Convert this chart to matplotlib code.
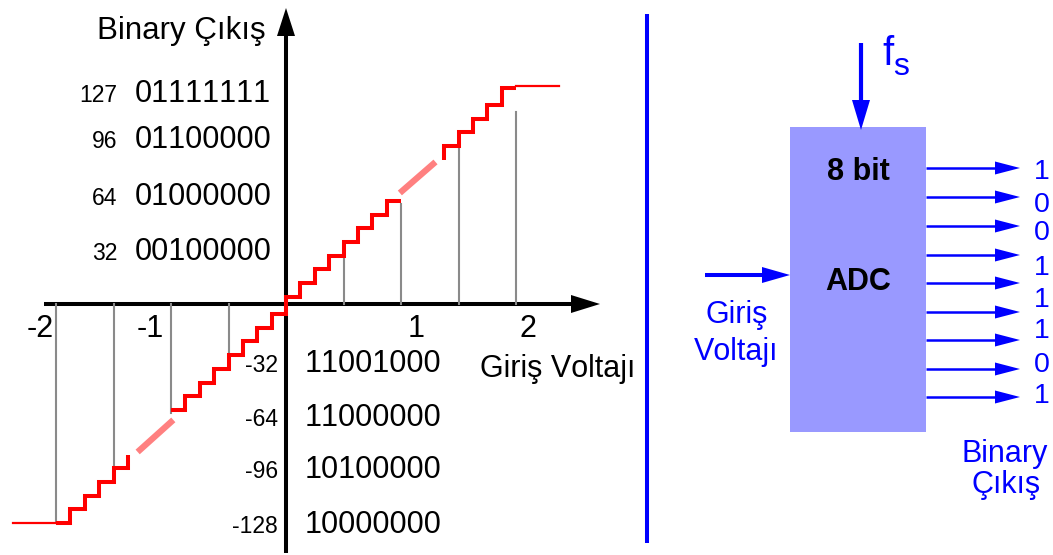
import matplotlib.pyplot as plt
from matplotlib.patches import Rectangle

plt.rcParams['font.family'] = ['Liberation Sans', 'DejaVu Sans']
# the reference digits are set without the "11" kerning pair
plt.rcParams['text.kerning_factor'] = 16

# transfer curve: input volts -> output code
mid_edges = [-1.0, -0.875, -0.75, -0.625, -0.5, -0.375, -0.25, -0.125, 0.0,
             0.125, 0.25, 0.375, 0.5, 0.625, 0.75, 0.875, 1.0]
mid_levels = [-62, -54, -46, -38, -30, -22, -14, -6,
              4, 12, 20, 28, 36, 44, 52, 60, 60]
top_edges = [1.375, 1.375, 1.5, 1.625, 1.75, 1.875, 2.0]
top_levels = [84, 92, 100, 108, 116, 126, 126]
low_edges = [-2.0, -1.875, -1.75, -1.625, -1.5, -1.375]
low_levels = [-128, -120, -112, -104, -96, -88]
sat_top_v, sat_top_code = [2.0, 2.37], [127, 127]
sat_low_v, sat_low_code = [-2.37, -2.0], [-128, -128]
gap_pos_v, gap_pos_code = [0.99, 1.30], [64.6, 82.7]
gap_neg_v, gap_neg_code = [-1.29, -0.98], [-86.5, -67.8]

grid_v = [-2, -1.5, -1, -0.5, 0.5, 1, 1.5, 2]
grid_top = [-128, -96, -64, -32, 28, 58, 91, 112]

xtick_labels = ['-2', '-1', '1', '2']
xtick_pos = [-2.14, -1.18, 1.13, 2.10]

pos_codes = ['127', '96', '64', '32']
pos_binary = ['01111111', '01100000', '01000000', '00100000']
pos_rows = [117.7, 90.8, 57.6, 25.5]
neg_codes = ['-32', '-64', '-96', '-128']
neg_binary = ['11001000', '11000000', '10100000', '10000000']
neg_rows = [-39.8, -71.4, -101.5, -133.8]

# ADC block
out_bits = ['1', '0', '0', '1', '1', '1', '0', '1']
bit_rows = [179, 212, 240, 275, 307, 338, 372, 403]
out_arrow_rows = [168, 197, 226, 255, 283, 312, 340, 369, 397]

BLUE = '#0000ff'
W, H = 1053, 555
fig = plt.figure(figsize=(W / 100, H / 100), dpi=100)
fig.patch.set_facecolor('white')

# pixel overlay (y down)
ov = fig.add_axes([0, 0, 1, 1], zorder=0)
ov.set_xlim(0, W)
ov.set_ylim(H, 0)
ov.axis('off')

# data axes: 1 V = 115 px, 1 code = 1.714 px, origin at (286, 303.7)
ax = fig.add_axes([0, 0, 1, 1], zorder=1)
ax.patch.set_alpha(0)
ax.set_xlim(-286 / 115, (W - 286) / 115)
ax.set_ylim((303.7 - H) / 1.714, 303.7 / 1.714)
ax.axis('off')


def arrow(x0, y0, x1, y1, head_len, head_half, lw, color):
    dx, dy = x1 - x0, y1 - y0
    L = (dx ** 2 + dy ** 2) ** 0.5
    ux, uy = dx / L, dy / L
    bx, by = x1 - ux * head_len, y1 - uy * head_len
    ov.plot([x0, bx + ux], [y0, by + uy], color=color, lw=lw, solid_capstyle='butt')
    ov.fill([x1, bx - uy * head_half, bx + uy * head_half],
            [y1, by + ux * head_half, by - ux * head_half], color=color, lw=0)


# chart axes
arrow(44, 304, 600, 304, 29, 9, 2.9, 'black')
arrow(286, 553, 286, 8, 28, 9, 2.9, 'black')

# grid drops
for v, top in zip(grid_v, grid_top):
    ax.plot([v, v], [0, top], color='#8a8a8a', lw=1.5, zorder=2)

red = dict(color='#ff0000', lw=2.9, solid_joinstyle='miter', solid_capstyle='butt', zorder=3)
ax.step(mid_edges, mid_levels, where='post', **red)
ax.step(top_edges, top_levels, where='post', **red)
ax.step(low_edges, low_levels, where='post', **red)
ax.plot(sat_top_v, sat_top_code, color='#ff0000', lw=1.6, zorder=3)
ax.plot(sat_low_v, sat_low_code, color='#ff0000', lw=1.6, zorder=3)
ax.plot(gap_pos_v, gap_pos_code, color='#ff8080', lw=4.5, solid_capstyle='butt', zorder=3)
ax.plot(gap_neg_v, gap_neg_code, color='#ff8080', lw=4.5, solid_capstyle='butt', zorder=3)

for lab, x in zip(xtick_labels, xtick_pos):
    ax.text(x, -14.8, lab, fontsize=22, ha='center', va='center')

for c, b, y in zip(pos_codes, pos_binary, pos_rows):
    ax.text((117 - 286) / 115, y, c, fontsize=16.5, ha='right', va='baseline')
    ax.text((135 - 286) / 115, y, b, fontsize=22, ha='left', va='baseline')
for c, b, y in zip(neg_codes, neg_binary, neg_rows):
    ax.text((278 - 286) / 115, y, c, fontsize=16.5, ha='right', va='baseline')
    ax.text((305 - 286) / 115, y, b, fontsize=22, ha='left', va='baseline')

ov.text(181, 39, 'Binary Çıkış', fontsize=22.5, ha='center', va='baseline')
ov.text(558, 377, 'Giriş Voltajı', fontsize=22, ha='center', va='baseline')

# divider
ov.plot([647, 647], [14, 543], color=BLUE, lw=2.9, solid_capstyle='butt')

# ADC block
ov.add_patch(Rectangle((790, 127), 136, 305, facecolor='#9999ff', edgecolor='none'))
ov.text(858, 180, '8 bit', fontsize=22, fontweight='bold', ha='center', va='baseline')
ov.text(858, 290, 'ADC', fontsize=22, fontweight='bold', ha='center', va='baseline')

arrow(861, 43, 861, 130, 30, 9, 3.0, BLUE)
ov.text(882, 65, 'f', fontsize=29, color=BLUE, ha='left', va='baseline')
ov.text(893, 75, 's', fontsize=23, color=BLUE, ha='left', va='baseline')

arrow(705, 275, 790, 275, 28, 8, 2.9, BLUE)
ov.text(737, 323, 'Giriş', fontsize=22, color=BLUE, ha='center', va='baseline')
ov.text(736, 360, 'Voltajı', fontsize=22, color=BLUE, ha='center', va='baseline')

for y in out_arrow_rows:
    arrow(926, y, 1020, y, 25, 6.5, 1.8, BLUE)
for b, y in zip(out_bits, bit_rows):
    ov.text(1042, y, b, fontsize=20.5, color=BLUE, ha='center', va='baseline')

ov.text(1005, 462, 'Binary', fontsize=22, color=BLUE, ha='center', va='baseline')
ov.text(1006, 493, 'Çıkış', fontsize=22, color=BLUE, ha='center', va='baseline')

fig.savefig('out.png', dpi=100)
